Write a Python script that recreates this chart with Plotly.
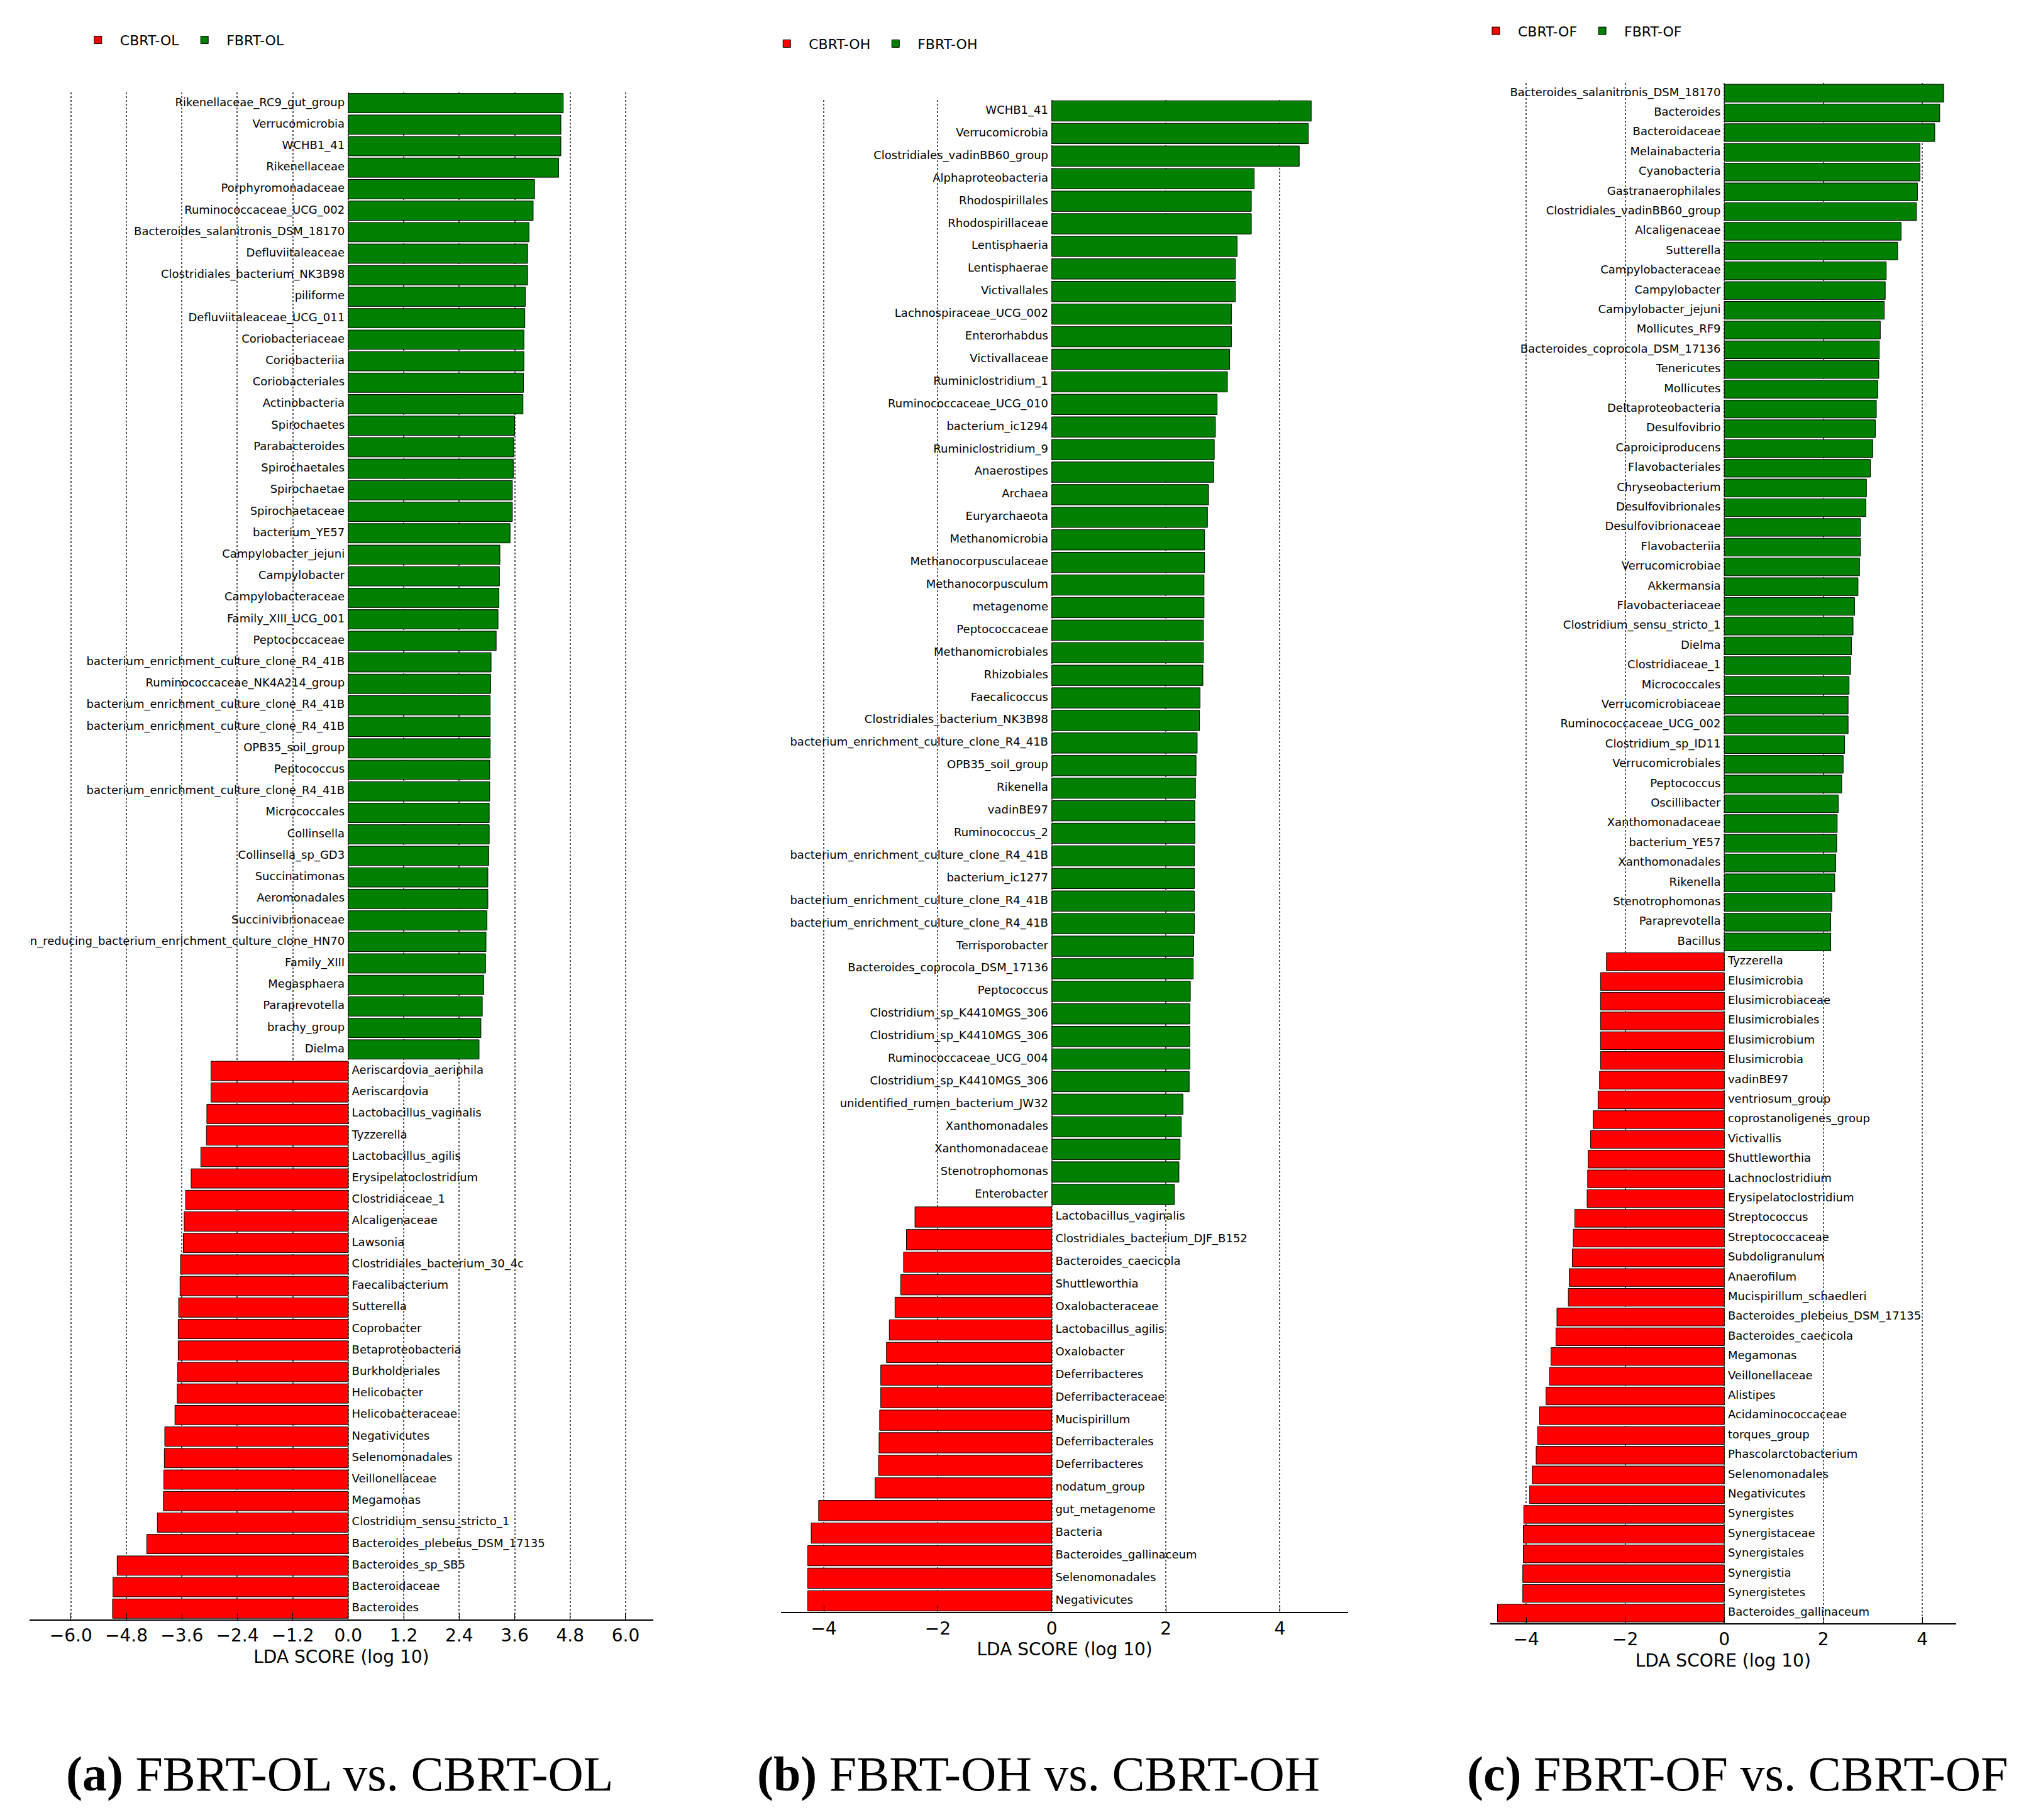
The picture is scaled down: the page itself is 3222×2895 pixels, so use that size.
import plotly.graph_objects as go

### Data ###
# panel (a)
a_green_names = ["Rikenellaceae_RC9_gut_group", "Verrucomicrobia", "WCHB1_41", "Rikenellaceae", "Porphyromonadaceae",
                 "Ruminococcaceae_UCG_002", "Bacteroides_salanitronis_DSM_18170", "Defluviitaleaceae",
                 "Clostridiales_bacterium_NK3B98", "piliforme", "Defluviitaleaceae_UCG_011", "Coriobacteriaceae",
                 "Coriobacteriia", "Coriobacteriales", "Actinobacteria", "Spirochaetes", "Parabacteroides",
                 "Spirochaetales", "Spirochaetae", "Spirochaetaceae", "bacterium_YE57", "Campylobacter_jejuni",
                 "Campylobacter", "Campylobacteraceae", "Family_XIII_UCG_001", "Peptococcaceae",
                 "bacterium_enrichment_culture_clone_R4_41B", "Ruminococcaceae_NK4A214_group",
                 "bacterium_enrichment_culture_clone_R4_41B", "bacterium_enrichment_culture_clone_R4_41B",
                 "OPB35_soil_group", "Peptococcus", "bacterium_enrichment_culture_clone_R4_41B", "Micrococcales",
                 "Collinsella", "Collinsella_sp_GD3", "Succinatimonas", "Aeromonadales", "Succinivibrionaceae",
                 "iron_reducing_bacterium_enrichment_culture_clone_HN70", "Family_XIII", "Megasphaera",
                 "Paraprevotella", "brachy_group", "Dielma"]
a_green_vals = [4.65, 4.6, 4.6, 4.55, 4.03, 4.0, 3.91, 3.88, 3.88, 3.83, 3.82, 3.8, 3.8, 3.79, 3.78,
                3.6, 3.58, 3.57, 3.55, 3.55, 3.5, 3.28, 3.27, 3.26, 3.24, 3.2, 3.09, 3.08, 3.07, 3.07,
                3.07, 3.06, 3.06, 3.05, 3.05, 3.04, 3.02, 3.02, 3.0, 2.98, 2.97, 2.93, 2.9, 2.87, 2.83]
a_red_names = ["Aeriscardovia_aeriphila", "Aeriscardovia", "Lactobacillus_vaginalis", "Tyzzerella",
               "Lactobacillus_agilis", "Erysipelatoclostridium", "Clostridiaceae_1", "Alcaligenaceae", "Lawsonia",
               "Clostridiales_bacterium_30_4c", "Faecalibacterium", "Sutterella", "Coprobacter",
               "Betaproteobacteria", "Burkholderiales", "Helicobacter", "Helicobacteraceae", "Negativicutes",
               "Selenomonadales", "Veillonellaceae", "Megamonas", "Clostridium_sensu_stricto_1",
               "Bacteroides_plebeius_DSM_17135", "Bacteroides_sp_SB5", "Bacteroidaceae", "Bacteroides"]
a_red_vals = [-2.97, -2.97, -3.06, -3.07, -3.19, -3.4, -3.52, -3.55, -3.57, -3.63, -3.64, -3.67, -3.68,
              -3.68, -3.69, -3.7, -3.75, -3.97, -3.98, -3.99, -4.0, -4.13, -4.36, -5.0, -5.09, -5.1]

# panel (b)
b_green_names = ["WCHB1_41", "Verrucomicrobia", "Clostridiales_vadinBB60_group", "Alphaproteobacteria",
                 "Rhodospirillales", "Rhodospirillaceae", "Lentisphaeria", "Lentisphaerae", "Victivallales",
                 "Lachnospiraceae_UCG_002", "Enterorhabdus", "Victivallaceae", "Ruminiclostridium_1",
                 "Ruminococcaceae_UCG_010", "bacterium_ic1294", "Ruminiclostridium_9", "Anaerostipes", "Archaea",
                 "Euryarchaeota", "Methanomicrobia", "Methanocorpusculaceae", "Methanocorpusculum", "metagenome",
                 "Peptococcaceae", "Methanomicrobiales", "Rhizobiales", "Faecalicoccus",
                 "Clostridiales_bacterium_NK3B98", "bacterium_enrichment_culture_clone_R4_41B", "OPB35_soil_group",
                 "Rikenella", "vadinBE97", "Ruminococcus_2", "bacterium_enrichment_culture_clone_R4_41B",
                 "bacterium_ic1277", "bacterium_enrichment_culture_clone_R4_41B",
                 "bacterium_enrichment_culture_clone_R4_41B", "Terrisporobacter", "Bacteroides_coprocola_DSM_17136",
                 "Peptococcus", "Clostridium_sp_K4410MGS_306", "Clostridium_sp_K4410MGS_306",
                 "Ruminococcaceae_UCG_004", "Clostridium_sp_K4410MGS_306", "unidentified_rumen_bacterium_JW32",
                 "Xanthomonadales", "Xanthomonadaceae", "Stenotrophomonas", "Enterobacter"]
b_green_vals = [4.55, 4.5, 4.34, 3.55, 3.5, 3.5, 3.25, 3.22, 3.22, 3.15, 3.15, 3.12, 3.08, 2.9, 2.87,
                2.85, 2.84, 2.75, 2.73, 2.68, 2.68, 2.67, 2.67, 2.66, 2.66, 2.65, 2.6, 2.59, 2.55, 2.53,
                2.52, 2.51, 2.51, 2.5, 2.5, 2.5, 2.5, 2.49, 2.48, 2.43, 2.42, 2.42, 2.42, 2.41, 2.3,
                2.27, 2.25, 2.23, 2.15]
b_red_names = ["Lactobacillus_vaginalis", "Clostridiales_bacterium_DJF_B152", "Bacteroides_caecicola",
               "Shuttleworthia", "Oxalobacteraceae", "Lactobacillus_agilis", "Oxalobacter", "Deferribacteres",
               "Deferribacteraceae", "Mucispirillum", "Deferribacterales", "Deferribacteres", "nodatum_group",
               "gut_metagenome", "Bacteria", "Bacteroides_gallinaceum", "Selenomonadales", "Negativicutes"]
b_red_vals = [-2.4, -2.55, -2.6, -2.65, -2.75, -2.85, -2.9, -3.0, -3.0, -3.02, -3.03, -3.04, -3.1,
              -4.09, -4.22, -4.28, -4.28, -4.28]

# panel (c)
c_green_names = ["Bacteroides_salanitronis_DSM_18170", "Bacteroides", "Bacteroidaceae", "Melainabacteria",
                 "Cyanobacteria", "Gastranaerophilales", "Clostridiales_vadinBB60_group", "Alcaligenaceae",
                 "Sutterella", "Campylobacteraceae", "Campylobacter", "Campylobacter_jejuni", "Mollicutes_RF9",
                 "Bacteroides_coprocola_DSM_17136", "Tenericutes", "Mollicutes", "Deltaproteobacteria",
                 "Desulfovibrio", "Caproiciproducens", "Flavobacteriales", "Chryseobacterium", "Desulfovibrionales",
                 "Desulfovibrionaceae", "Flavobacteriia", "Verrucomicrobiae", "Akkermansia", "Flavobacteriaceae",
                 "Clostridium_sensu_stricto_1", "Dielma", "Clostridiaceae_1", "Micrococcales",
                 "Verrucomicrobiaceae", "Ruminococcaceae_UCG_002", "Clostridium_sp_ID11", "Verrucomicrobiales",
                 "Peptococcus", "Oscillibacter", "Xanthomonadaceae", "bacterium_YE57", "Xanthomonadales",
                 "Rikenella", "Stenotrophomonas", "Paraprevotella", "Bacillus"]
c_green_vals = [4.43, 4.35, 4.25, 3.95, 3.95, 3.9, 3.88, 3.57, 3.5, 3.27, 3.25, 3.23, 3.15, 3.13, 3.12,
                3.1, 3.07, 3.05, 3.0, 2.95, 2.87, 2.86, 2.75, 2.75, 2.73, 2.7, 2.63, 2.6, 2.57, 2.55,
                2.52, 2.5, 2.5, 2.43, 2.4, 2.37, 2.3, 2.28, 2.27, 2.25, 2.23, 2.17, 2.15, 2.15]
c_red_names = ["Tyzzerella", "Elusimicrobia", "Elusimicrobiaceae", "Elusimicrobiales", "Elusimicrobium",
               "Elusimicrobia", "vadinBE97", "ventriosum_group", "coprostanoligenes_group", "Victivallis",
               "Shuttleworthia", "Lachnoclostridium", "Erysipelatoclostridium", "Streptococcus",
               "Streptococcaceae", "Subdoligranulum", "Anaerofilum", "Mucispirillum_schaedleri",
               "Bacteroides_plebeius_DSM_17135", "Bacteroides_caecicola", "Megamonas", "Veillonellaceae",
               "Alistipes", "Acidaminococcaceae", "torques_group", "Phascolarctobacterium", "Selenomonadales",
               "Negativicutes", "Synergistes", "Synergistaceae", "Synergistales", "Synergistia", "Synergistetes",
               "Bacteroides_gallinaceum"]
c_red_vals = [-2.38, -2.5, -2.5, -2.5, -2.5, -2.5, -2.52, -2.55, -2.65, -2.7, -2.75, -2.76, -2.77, -3.02,
              -3.05, -3.07, -3.13, -3.15, -3.38, -3.4, -3.5, -3.53, -3.6, -3.73, -3.77, -3.8, -3.88,
              -3.93, -4.05, -4.06, -4.06, -4.07, -4.07, -4.58]

panels = [
    dict(green=(a_green_names, a_green_vals), red=(a_red_names, a_red_vals), groups=("CBRT-OL", "FBRT-OL"),
         dom=[0.012, 0.32], ydom=[0.113, 0.952], rng=[-6.9, 6.6], dtick=1.2, fmt=".1f",
         leg=(0.035, 0.988), cap="<b>(a)</b> FBRT-OL vs. CBRT-OL", capx=0.165),
    dict(green=(b_green_names, b_green_vals), red=(b_red_names, b_red_vals), groups=("CBRT-OH", "FBRT-OH"),
         dom=[0.383, 0.663], ydom=[0.117, 0.948], rng=[-4.75, 5.2], dtick=2, fmt="d",
         leg=(0.375, 0.986), cap="<b>(b)</b> FBRT-OH vs. CBRT-OH", capx=0.51),
    dict(green=(c_green_names, c_green_vals), red=(c_red_names, c_red_vals), groups=("CBRT-OF", "FBRT-OF"),
         dom=[0.733, 0.963], ydom=[0.111, 0.957], rng=[-4.73, 4.68], dtick=2, fmt="d",
         leg=(0.725, 0.993), cap="<b>(c)</b> FBRT-OF vs. CBRT-OF", capx=0.855),
]

RED = "#ff0000"
GREEN = "#008000"
LABEL_FONT = dict(family="DejaVu Sans", size=18, color="black")

fig = go.Figure()
layout = {}

for i, p in enumerate(panels):
    k = "" if i == 0 else str(i + 1)
    names = p["green"][0] + p["red"][0]
    vals = p["green"][1] + p["red"][1]
    n = len(names)
    ng = len(p["green"][0])
    pos = list(range(n))
    leg = "legend" + k

    fig.add_trace(go.Bar(x=p["red"][1], y=pos[ng:], orientation="h", name=p["groups"][0],
                         marker=dict(color=RED, line=dict(color="black", width=1)),
                         xaxis="x" + k, yaxis="y" + k, legend=leg))
    fig.add_trace(go.Bar(x=p["green"][1], y=pos[:ng], orientation="h", name=p["groups"][1],
                         marker=dict(color=GREEN, line=dict(color="black", width=1)),
                         xaxis="x" + k, yaxis="y" + k, legend=leg))
    # labels sit on the opposite side of zero
    fig.add_trace(go.Scatter(x=[0] * n, y=pos, mode="text", text=[" " + s + " " for s in names],
                             textposition=["middle left" if v > 0 else "middle right" for v in vals],
                             textfont=LABEL_FONT, showlegend=False, hoverinfo="skip",
                             xaxis="x" + k, yaxis="y" + k))

    layout["xaxis" + k] = dict(domain=p["dom"], range=p["rng"], anchor="y" + k, tick0=0, dtick=p["dtick"],
                               tickformat=p["fmt"], showgrid=True, gridcolor="#555555", griddash="dot",
                               gridwidth=1.5, zeroline=False, showline=True, linecolor="black", linewidth=2,
                               ticks="inside", ticklen=10, tickcolor="black",
                               tickfont=dict(family="DejaVu Sans", size=28, color="black"),
                               title=dict(text="LDA SCORE (log 10)", standoff=8,
                                          font=dict(family="DejaVu Sans", size=28, color="black")))
    layout["yaxis" + k] = dict(domain=p["ydom"], range=[n - 0.5, -0.5], anchor="x" + k, showticklabels=False,
                               showgrid=False, zeroline=False, showline=False, ticks="")
    layout[leg] = dict(orientation="h", x=p["leg"][0], y=p["leg"][1], xanchor="left", yanchor="top",
                       font=dict(family="DejaVu Sans", size=22, color="black"), bgcolor="rgba(0,0,0,0)",
                       itemwidth=60)

annotations = [dict(text=p["cap"], x=p["capx"], y=0.028, xref="paper", yref="paper", showarrow=False,
                    xanchor="center", yanchor="middle",
                    font=dict(family="Liberation Serif", size=78, color="black")) for p in panels]

fig.update_layout(width=3222, height=2895, plot_bgcolor="white", paper_bgcolor="white",
                  margin=dict(l=0, r=0, t=0, b=0), barmode="overlay", bargap=0.1,
                  annotations=annotations, **layout)

fig.write_html("out.html")
